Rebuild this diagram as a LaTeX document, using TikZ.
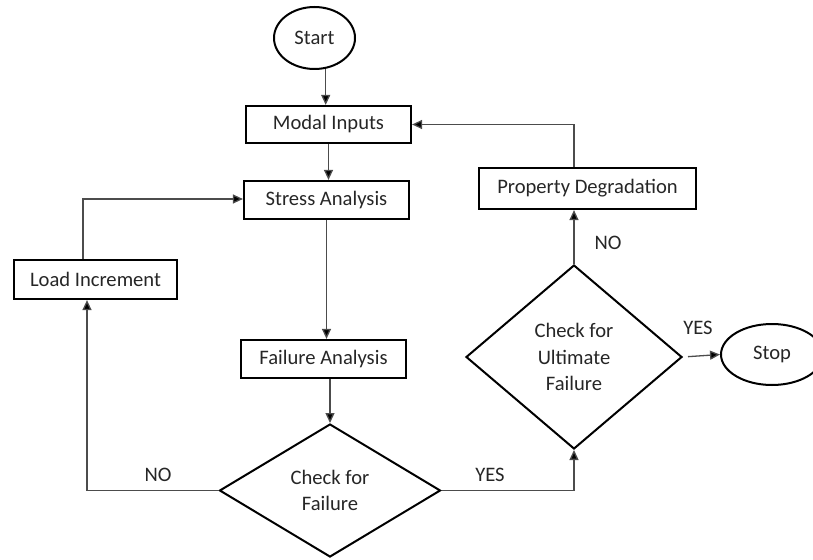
\documentclass[tikz,border=0pt]{standalone}
\usepackage{fontspec}
\setmainfont{Carlito}
\usetikzlibrary{shapes.geometric,arrows.meta}

\begin{document}
\begin{tikzpicture}[x=1pt,y=-1pt,
  every node/.style={font=\fontsize{20.6}{26.5}\selectfont, text=black!85},
  procbox/.style={draw=black, line width=2.2pt, rectangle, inner sep=0pt, align=center},
  terminal/.style={draw=black, line width=2pt, ellipse, inner sep=0pt},
  decision/.style={draw=black, line width=2pt, diamond, inner sep=0pt, align=center},
  flow/.style={draw=black!70, line width=1.3pt,
    -{Triangle[length=10pt,width=9pt,fill=black]}},
  lbl/.style={inner sep=0pt}]

  \useasboundingbox (0,0) rectangle (813,559);

  % terminals
  \node[terminal, minimum width=81pt, minimum height=62pt] (start) at (314.5,38) {Start};
  \node[terminal, minimum width=102pt, minimum height=61pt] (stop) at (772,354.5) {Stop};

  % process boxes
  \node[procbox, minimum width=165pt, minimum height=37pt] (modal)  at (328.5,124.5) {Modal Inputs};
  \node[procbox, minimum width=165pt, minimum height=38pt] (stress) at (326.5,200)   {Stress Analysis};
  \node[procbox, minimum width=165pt, minimum height=38pt] (failan) at (323.5,359)   {Failure Analysis};
  \node[procbox, minimum width=163pt, minimum height=39pt] (load)   at (95.5,279.5)  {Load Increment};
  \node[procbox, minimum width=217pt, minimum height=41pt] (prop)   at (587.5,188.5) {Property Degradation};

  % decisions
  \node[decision, minimum width=221pt, minimum height=133pt] (check) at (330,490.5) {Check for\\Failure};
  \node[decision, minimum width=216pt, minimum height=184pt] (ult)   at (574,357)   {Check for\\Ultimate\\Failure};

  % bends of the loop connectors
  \coordinate (noturn) at (87,490.5);
  \coordinate (loadup) at (83,199);

  % main flow
  \draw[flow] (start.290) -- (start.290 |- modal.north);
  \draw[flow] (modal.south) -- (modal.south |- stress.north);
  \draw[flow] (stress.south) -- (stress.south |- failan.north);
  \draw[flow] (failan.south -| check.north) -- (check.north);

  % NO branch: increase the load and repeat
  \draw[flow] (check.west) -- (noturn) -- (noturn |- load.south);
  \draw[flow] (loadup |- load.north) -- (loadup) -- (loadup -| stress.west);

  % YES branch: check for ultimate failure
  \draw[flow] (check.east) -- (check.east -| ult.south) -- (ult.south);
  \draw[flow] (ult.north) -- (ult.north |- prop.south);
  \draw[flow] (prop.north -| ult.north) -- (ult.north |- modal.east) -- (modal.east);
  \draw[flow, shorten <=5pt] (ult.east) -- (stop.west);

  % branch labels
  \node[lbl] (noA)  at (158,475) {NO};
  \node[lbl] (yesA) at (490,475) {YES};
  \node[lbl] (noB)  at (608,243) {NO};
  \node[lbl] (yesB) at (698,328) {YES};
\end{tikzpicture}
\end{document}
